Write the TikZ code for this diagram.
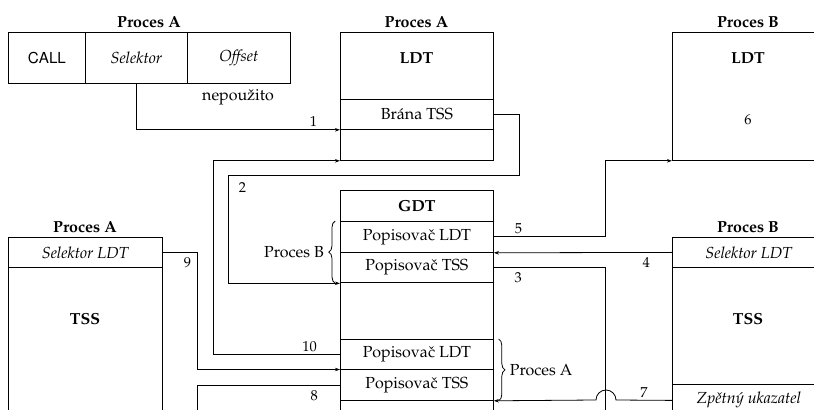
\documentclass[tikz,border=0pt]{standalone}
\usepackage[T1]{fontenc}
\usepackage{mathpazo}
\usepackage[scaled=0.95]{helvet}
\usetikzlibrary{arrows.meta,positioning,decorations.pathreplacing}

\begin{document}
\begin{tikzpicture}[x=0.625pt, y=-0.625pt, line width=0.5pt,
  cell/.style 2 args={draw, anchor=north west, inner sep=0pt, minimum width=#1*0.625pt, minimum height=#2*0.625pt},
  hdr/.style={font=\bfseries},
  num/.style={font=\small, inner sep=1pt},
  conn/.style={-{Stealth[length=3.2pt,width=2.2pt]}},
  brc/.style={decorate, decoration={brace, amplitude=4pt}}]
  \clip (0,0) rectangle (814,410);

  % --- instruction of Proces A ---
  \node[hdr] (hdrInstr) at (149,22) {Proces A};
  \node[cell={77}{51}, font=\sffamily] (call) at (8,32) {CALL};
  \node[cell={102}{51}] (sel) at (85,32) {\textit{Selektor}};
  \node[cell={103}{51}] (off) at (187,32) {\textit{Offset}};
  \node (unused) at (238,97) {nepou\v{z}ito};

  % --- LDT of Proces A ---
  \node[hdr] (hdrLdtA) at (416.5,22) {Proces A};
  \node[cell={153}{67}] (ldtA) at (340,32) {};
  \node[hdr] (ldtAtitle) at (416.5,58) {LDT};
  \node[cell={153}{30}] (brana) at (340,99) {Br\'ana TSS};
  \node[cell={153}{31}] (ldtAend) at (340,129) {};

  % --- GDT ---
  \node[cell={153}{31}] (gdt) at (340,190) {\textbf{GDT}};
  \node[cell={153}{31}] (ldtB) at (340,221) {Popisova\v{c} LDT};
  \node[cell={153}{30.5}] (tssB) at (340,252) {Popisova\v{c} TSS};
  \node[cell={153}{56.5}] (gdtGap) at (340,282.5) {};
  \node[cell={153}{30.5}] (ldtA2) at (340,339) {Popisova\v{c} LDT};
  \node[cell={153}{30.5}] (tssA2) at (340,369.5) {Popisova\v{c} TSS};
  \node[cell={153}{30}] (gdtEnd) at (340,400) {};

  % --- LDT of Proces B ---
  \node[hdr] (hdrLdtB) at (748,22) {Proces B};
  \node[cell={153}{128}] (ldtBbox) at (672,32) {};
  \node[hdr] (ldtBtitle) at (748,58) {LDT};
  \node[num] (six) at (748,120) {6};

  % --- TSS of Proces B ---
  \node[hdr] (hdrTssB) at (748,227) {Proces B};
  \node[cell={153}{30}] (selB) at (672,237) {\textit{Selektor LDT}};
  \node[cell={153}{117}] (tssBbody) at (672,267) {};
  \node[hdr] (tssBtitle) at (748,319) {TSS};
  \node[cell={153}{32}] (zpet) at (672,384) {\textit{Zp\v{e}tn\'y ukazatel}};

  % --- TSS of Proces A ---
  \node[hdr] (hdrTssA) at (85,227) {Proces A};
  \node[cell={154}{30}] (selA) at (8,237) {\textit{Selektor LDT}};
  \node[cell={154}{150}] (tssAbody) at (8,267) {};
  \node[hdr] (tssAtitle) at (85,319) {TSS};

  % free ends below the picture
  \coordinate (down8) at (197,415);
  \coordinate (down3) at (605,415);

  % --- connectors ---
  \draw[conn] (sel.south) |- (brana.south west) node[num, pos=0.935, above=0.5pt] {1};
  \draw[conn] (brana.east) -- ++(26,0) |- (228,175) node[num, below right=3.4pt and 5.5pt] {2} |- (tssB.south west);
  \draw (tssB.east) -| (down3) node[num, pos=0.11, below=2pt] {3};
  \draw[conn] (selB.west) -- (ldtB.south east) node[num, pos=0.145, below=2pt] {4};
  \draw[conn] (ldtB.east) -- ++(112,0) node[num, pos=0.22, above=0.5pt] {5} |- (ldtBbox.south west);
  \draw[conn] (zpet.west) -- node[num, above=0.5pt] {7} (616,400) arc[start angle=0, end angle=-180, radius=10] -- (tssA2.south east);
  \draw (tssA2.west) -| (down8) node[num, pos=0.09, below=2pt] {8};
  \draw[conn] (selA.east) -- ++(35,0) node[num, below left=2pt and 3pt] {9} |- (tssA2.north west);
  \draw[conn] (ldtA2.west) -- ++(-127,0) node[num, pos=0.24, above=0.5pt] {10} |- (ldtAend.south west);

  % --- braces ---
  \draw[brc] ([xshift=-3pt]tssB.south west) -- ([xshift=-3pt]ldtB.north west) node[midway, left=3.5pt] {Proces B};
  \draw[brc] ([xshift=3pt]ldtA2.north east) -- ([xshift=3pt]tssA2.south east) node[midway, right=3.5pt] {Proces A};
\end{tikzpicture}
\end{document}
